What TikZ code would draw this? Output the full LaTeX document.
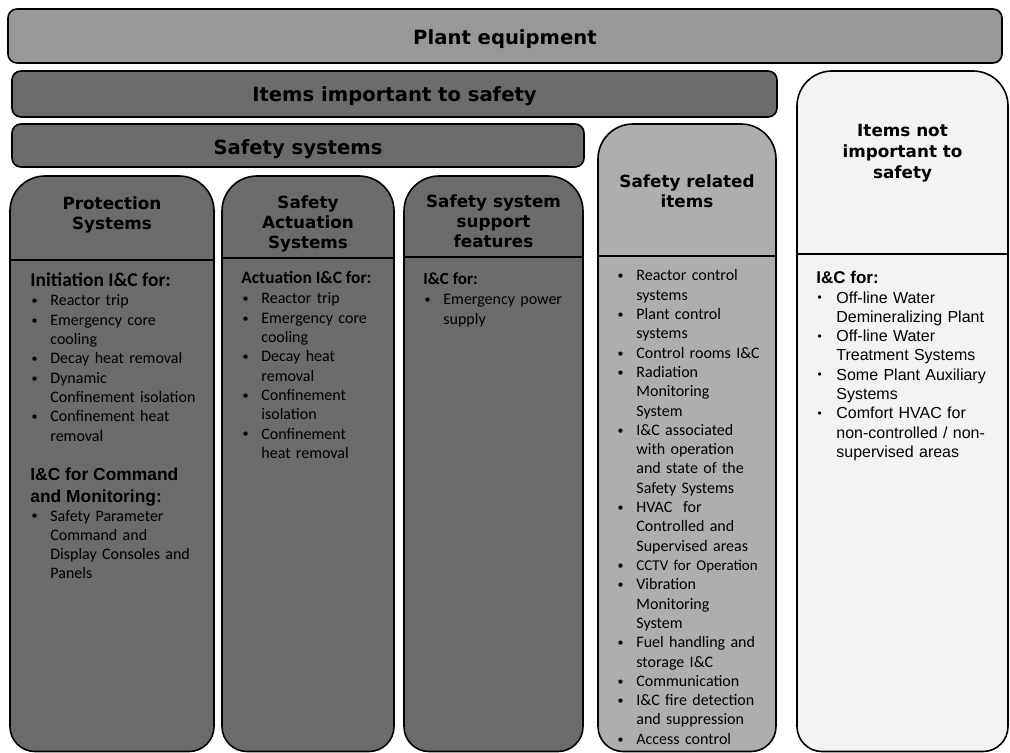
\documentclass[tikz,border=0pt]{standalone}
\usepackage{fontspec}
\usepackage{graphicx}
\setmainfont{Carlito}
\newfontfamily\hdrfont{DejaVu Sans}
\newfontfamily\arialfont{Liberation Sans}

\definecolor{plantgray}{RGB}{152,152,152}
\definecolor{iitsgray}{RGB}{107,107,107}
\definecolor{relgray}{RGB}{174,174,174}
\definecolor{notgray}{RGB}{243,243,243}

\newcommand{\bul}[1]{\noindent\makebox[10pt][l]{\hspace{0.6pt}\raisebox{0.15ex}{\scalebox{0.75}{\textbullet}}}#1\par}
\newcommand{\cont}[1]{\noindent\hspace*{10pt}#1\par}

% column with big top corners and small bottom corners
\newcommand{\colbox}[6]{%
  \draw[frame, fill=#5] (#1,{(#2+751.5)/2}) [rounded corners=17.5pt] -- (#1,#2) -- (#3,#2)
    -- (#3,{(#2+751.5)/2}) [rounded corners=12.5pt] -- (#3,751.5) -- (#1,751.5) -- cycle;
  \draw[frame] (#1,#6) -- (#3,#6);}

\tikzset{
  frame/.style={draw=black, line width=0.8pt},
  banner/.style={frame, rounded corners=4.5pt},
  bannertext/.style={font=\hdrfont\bfseries\fontsize{9.8pt}{12pt}\selectfont, anchor=base, inner sep=0pt},
  headtext/.style={font=\hdrfont\bfseries\fontsize{8.4pt}{10.2pt}\selectfont, align=center, anchor=base, inner sep=0pt},
  listtext/.style={font=\fontsize{8pt}{9.65pt}\selectfont, text width=#1, align=left, anchor=base west, inner sep=0pt},
  listtext/.default=100pt,
  arialtext/.style={listtext, font=\arialfont\fontsize{8pt}{9.65pt}\selectfont},
  subhead/.style={font=\bfseries\fontsize{#1}{11pt}\selectfont, anchor=base west, inner sep=0pt},
}

\begin{document}
\begin{tikzpicture}[x=0.5pt, y=-0.5pt]
  \useasboundingbox (0,0) rectangle (1010,753);

  % banners
  \draw[banner, fill=plantgray] (8,9) rectangle (1002,63);
  \draw[banner, fill=iitsgray] (12,71) rectangle (777,117);
  \draw[banner, fill=iitsgray] (12,124) rectangle (584,167);

  % columns
  \colbox{797}{71}{1008}{751}{notgray}{254}
  \colbox{598}{124}{776}{751}{relgray}{256}
  \colbox{10}{176}{214}{751}{iitsgray}{260}
  \colbox{222}{176}{394}{751}{iitsgray}{258}
  \colbox{404}{176}{583}{751}{iitsgray}{257}

  \node[bannertext] (plant) at (505,45) {Plant equipment};
  \node[bannertext] (iits) at (394.5,102) {Items important to safety};
  \node[bannertext] (safesys) at (298,155) {Safety systems};

  % multi-line heads sit on their last line
  \node[headtext] (prot-head) at (112,230) {Protection\\Systems};
  \node[headtext] (act-head) at (308,249) {Safety\\Actuation\\Systems};
  \node[headtext] (sup-head) at (493.5,248) {Safety system\\support\\features};
  \node[headtext] (rel-head) at (687,208) {Safety related\\items};
  \node[headtext, font=\hdrfont\bfseries\fontsize{8.4pt}{10.5pt}\selectfont] (not-head) at (902.5,179) {Items not\\important to\\safety};

  % protection systems
  \node[subhead=9.75pt] (prot-init) at (30,286) {Initiation I\&C for:};
  \node[listtext] (prot-list) at (30,306) {%
    \bul{Reactor trip}\bul{Emergency core}\cont{cooling}\bul{Decay heat removal}%
    \bul{Dynamic}\cont{Confinement isolation}\bul{Confinement heat}\cont{removal}};
  \node[subhead=8.7pt, font=\arialfont\bfseries\fontsize{8.7pt}{11pt}\selectfont, align=left] (prot-cmd) at (30,502)
    {I\&C for Command\\and Monitoring:};
  \node[listtext] (prot-panel) at (30,521) {%
    \bul{Safety Parameter}\cont{Command and}\cont{Display Consoles and}\cont{Panels}};

  % safety actuation systems
  \node[subhead=8.7pt] (act-init) at (241,284) {Actuation I\&C for:};
  \node[listtext] (act-list) at (241,304) {%
    \bul{Reactor trip}\bul{Emergency core}\cont{cooling}\bul{Decay heat}\cont{removal}%
    \bul{Confinement}\cont{isolation}\bul{Confinement}\cont{heat removal}};

  % support features
  \node[subhead=8.5pt] (sup-init) at (423,285) {I\&C for:};
  \node[listtext] (sup-list) at (423,305) {\bul{Emergency power}\cont{supply}};

  % safety related items
  \node[listtext] (rel-list) at (616,281) {%
    \bul{Reactor control}\cont{systems}\bul{Plant control}\cont{systems}%
    \bul{Control rooms I\&C}\bul{Radiation}\cont{Monitoring}\cont{System}%
    \bul{I\&C associated}\cont{with operation}\cont{and state of the}\cont{Safety Systems}%
    \bul{HVAC\ \ for}\cont{Controlled and}\cont{Supervised areas}%
    \bul{{\fontsize{7.5pt}{9.65pt}\selectfont CCTV for Operation}}%
    \bul{Vibration}\cont{Monitoring}\cont{System}%
    \bul{Fuel handling and}\cont{storage I\&C}\bul{Communication}%
    \bul{I\&C fire detection}\cont{and suppression}\bul{Access control}};

  % items not important to safety
  \node[subhead=8.5pt, font=\arialfont\bfseries\fontsize{8.5pt}{11pt}\selectfont] (not-init) at (816,284) {I\&C for:};
  \node[arialtext] (not-list) at (816,303) {%
    \bul{Off-line Water}\cont{Demineralizing Plant}\bul{Off-line Water}\cont{Treatment Systems}%
    \bul{Some Plant Auxiliary}\cont{Systems}\bul{Comfort HVAC for}\cont{non-controlled / non-}%
    \cont{supervised areas}};
\end{tikzpicture}
\end{document}
